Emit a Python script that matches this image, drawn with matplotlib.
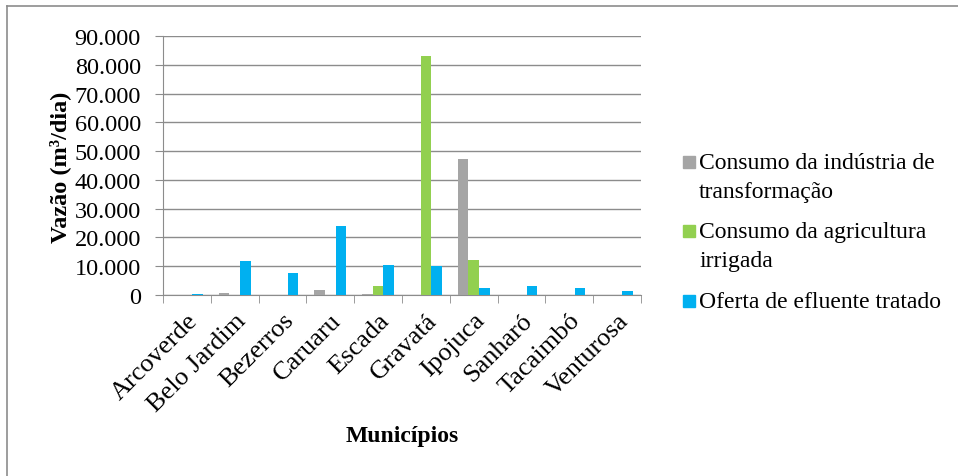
import matplotlib.pyplot as plt
import numpy as np
from matplotlib.patches import Rectangle
from matplotlib.ticker import FuncFormatter, FixedLocator

plt.rcParams["font.family"] = ["Liberation Serif", "DejaVu Serif"]

# ── Data (m³/dia) ────────────────────────────────────────────────────────────
municipios = ["Arcoverde", "Belo Jardim", "Bezerros", "Caruaru", "Escada",
              "Gravatá", "Ipojuca", "Sanharó", "Tacaimbó", "Venturosa"]
industria = [0, 800, 0, 1600, 200, 100, 47300, 0, 0, 0]
agricultura = [0, 0, 0, 0, 3000, 83000, 12000, 0, 0, 0]
efluente = [500, 11900, 7600, 24000, 10400, 10200, 2600, 3200, 2600, 1500]

labels = ["Consumo da indústria de\ntransformação",
          "Consumo da agricultura\nirrigada",
          "Oferta de efluente tratado"]
colors = ["#A5A5A5", "#92D050", "#00B0F0"]

W, H = 958, 477
fig = plt.figure(figsize=(W / 100, H / 100), dpi=100)
ax = fig.add_axes([163 / W, 1 - 296 / H, (641 - 163) / W, (296 - 37) / H])

x = np.arange(len(municipios))
bw = 1 / 4.5
for i, (vals, c) in enumerate(zip([industria, agricultura, efluente], colors)):
    ax.bar(x + (i - 1) * bw, vals, width=bw, color=c, zorder=3)

ax.set_xlim(-0.5, len(municipios) - 0.5)
ax.set_ylim(0, 90000)
ax.set_yticks(np.arange(0, 90001, 10000))
ax.yaxis.set_major_formatter(FuncFormatter(lambda v, p: f"{int(v):,}".replace(",", ".")))
ax.yaxis.grid(True, color="#8C8C8C", linewidth=1.0, zorder=0)

ax.set_xticks(x)
ax.set_xticklabels(municipios, rotation=45, ha="right", rotation_mode="anchor",
                   fontsize=19)
ax.xaxis.set_minor_locator(FixedLocator(np.arange(-0.5, len(municipios), 1)))
ax.tick_params(axis="x", which="major", length=0, pad=10)
ax.tick_params(axis="x", which="minor", length=6, color="#8C8C8C", direction="out")
ax.tick_params(axis="y", length=6, color="#8C8C8C", labelsize=17.5, pad=10)

for s in ["top", "right"]:
    ax.spines[s].set_visible(False)
for s in ["left", "bottom"]:
    ax.spines[s].set_color("#8C8C8C")

fig.text(60 / W, 1 - 167 / H, "Vazão (m³/dia)", rotation=90, fontsize=17.5,
         fontweight="bold", ha="center", va="center")
fig.text(402 / W, 1 - 437 / H, "Municípios", fontsize=17, fontweight="bold",
         ha="center", va="center")

# legend, drawn by hand so the squares sit on the first text line
leg_y = [163, 232, 302]
for lab, c, y in zip(labels, colors, leg_y):
    fig.patches.append(Rectangle((683 / W, 1 - (y + 6) / H), 12 / W, 12 / H,
                                 transform=fig.transFigure, color=c))
    fig.text(699 / W, 1 - (y - 10) / H, lab, fontsize=17, ha="left", va="top",
             linespacing=1.5)

# chart border (top/left only visible in the crop)
fig.add_artist(plt.Line2D([7 / W, 1], [1 - 7 / H, 1 - 7 / H], color="#8C8C8C",
                          linewidth=1.2, transform=fig.transFigure))
fig.add_artist(plt.Line2D([7 / W, 7 / W], [0, 1 - 7 / H], color="#8C8C8C",
                          linewidth=1.2, transform=fig.transFigure))

fig.savefig("out.png", dpi=100)
